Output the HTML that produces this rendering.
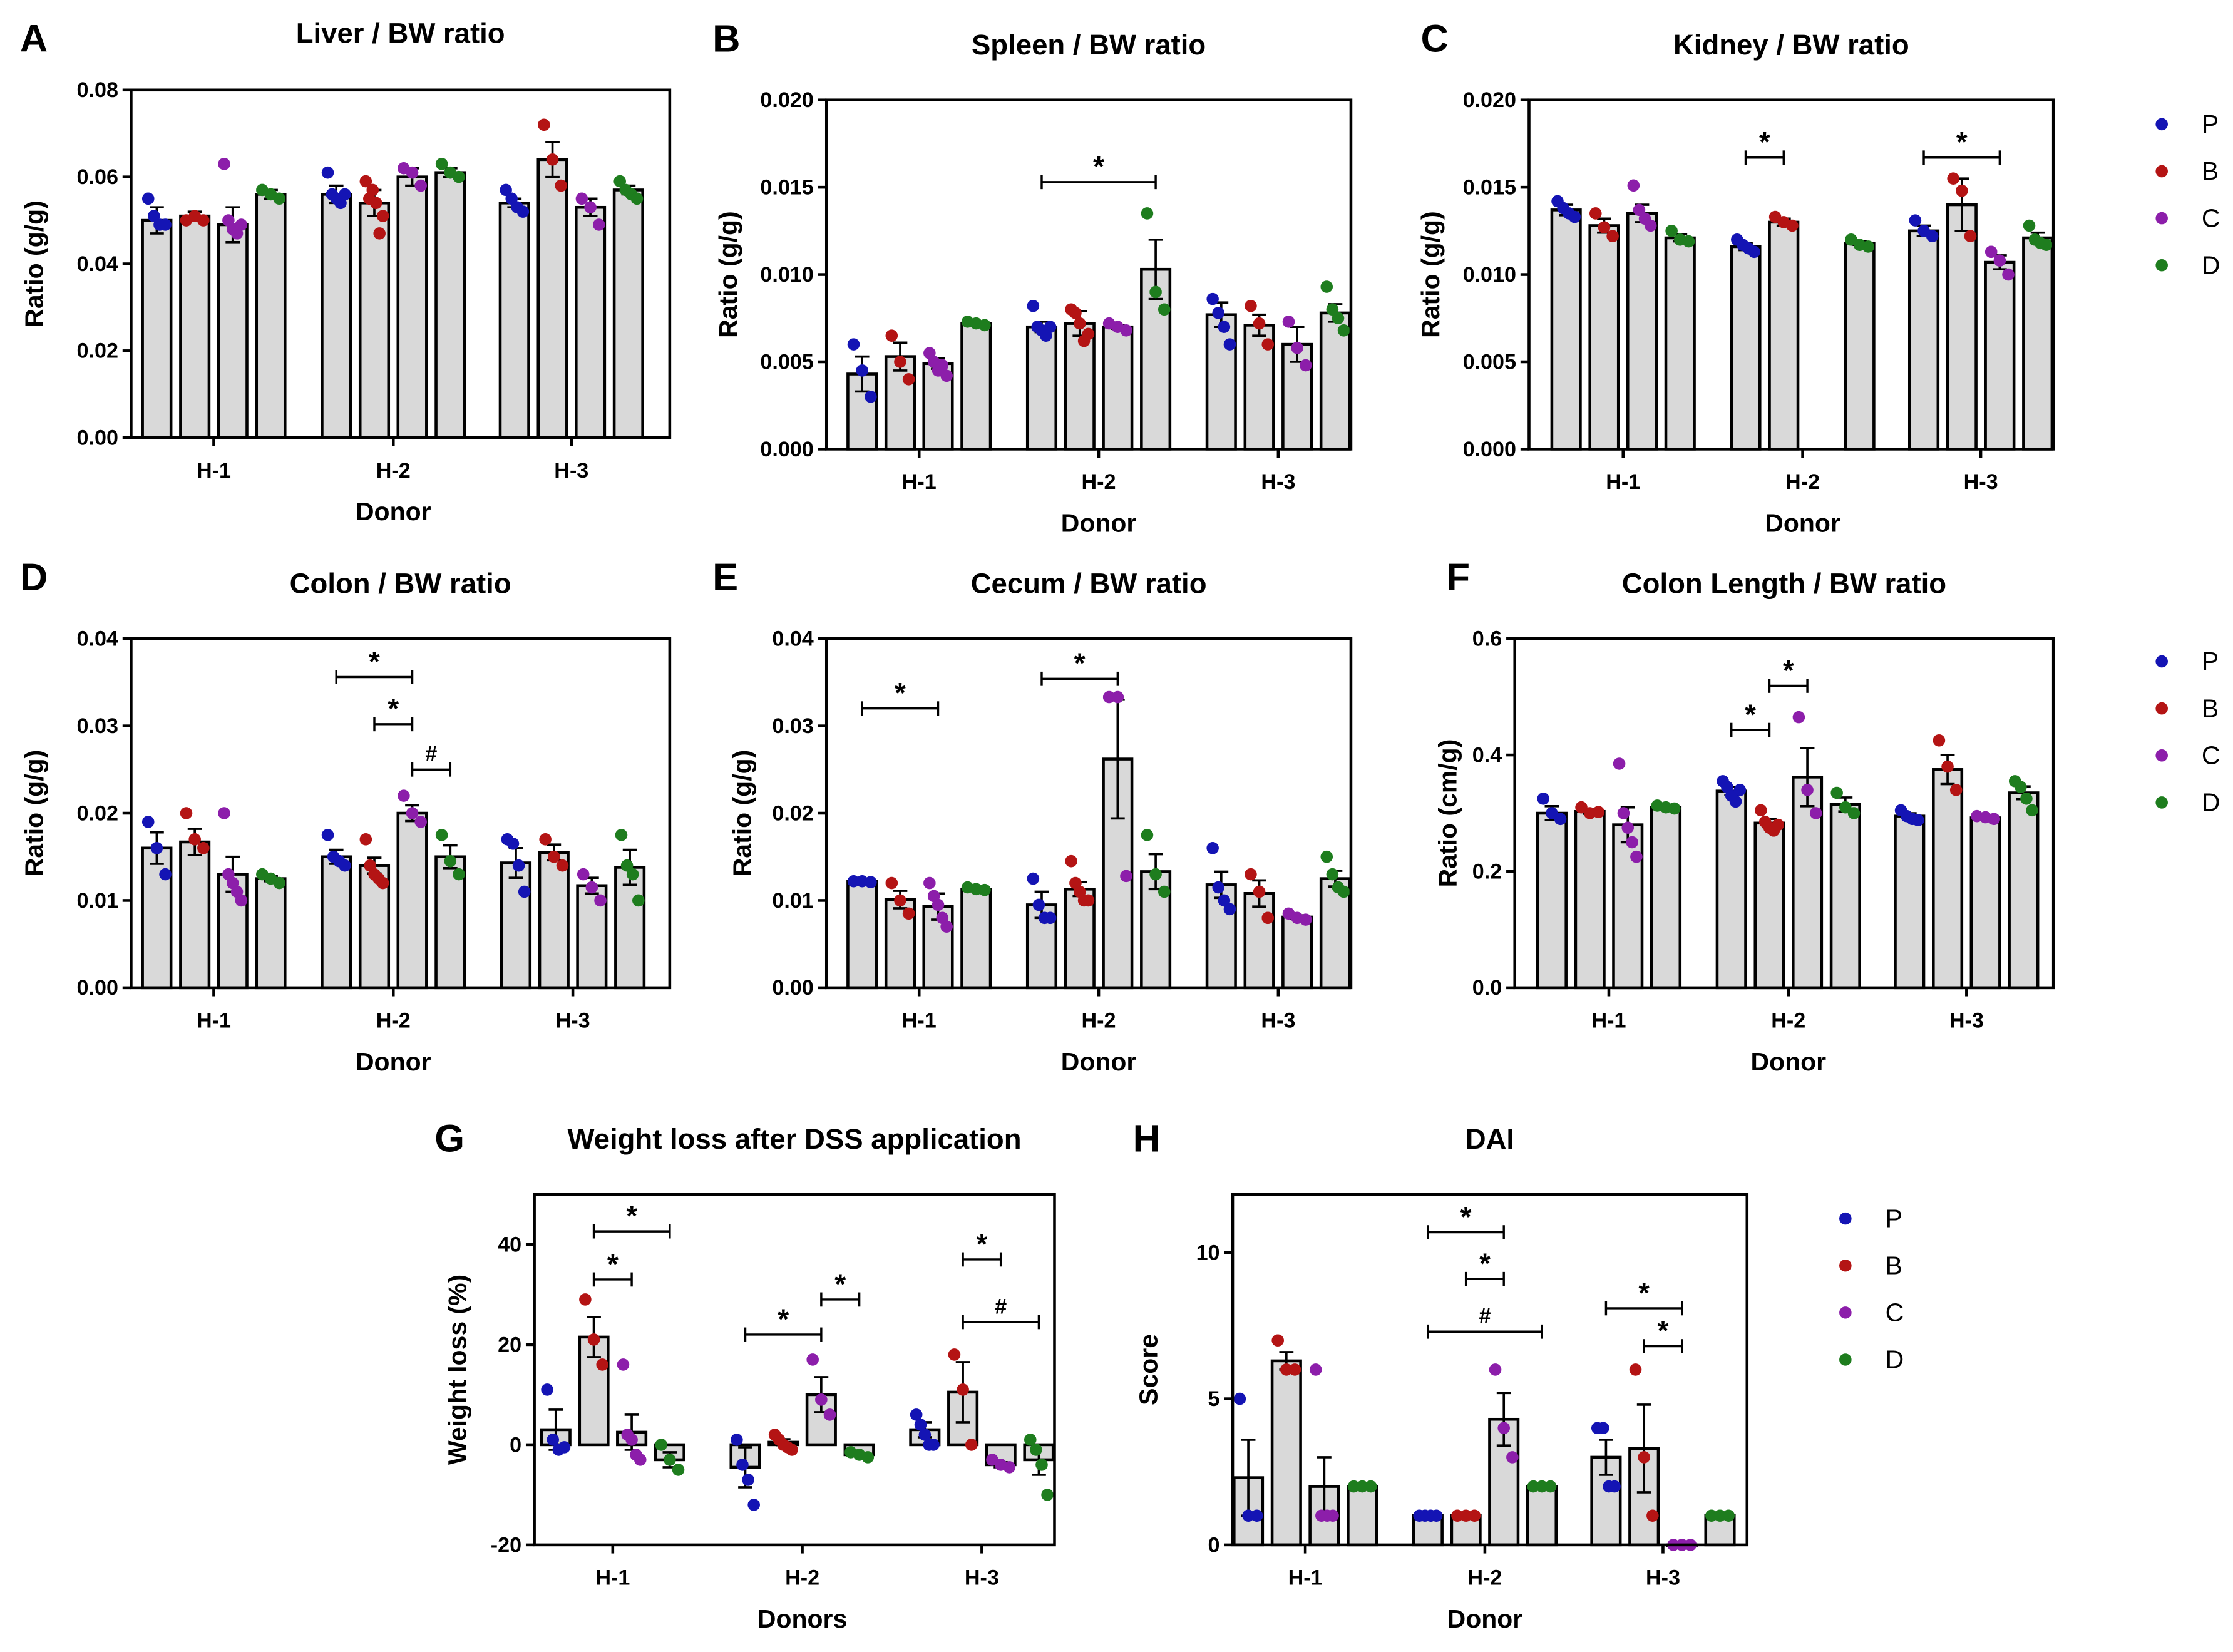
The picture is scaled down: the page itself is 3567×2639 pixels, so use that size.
<!DOCTYPE html>
<html><head><meta charset="utf-8"><style>
html,body{margin:0;padding:0;background:#fff;}
svg{display:block;font-family:"Liberation Sans",Arial,sans-serif;}
</style></head><body>
<svg id="fig" width="3567" height="2639" viewBox="0 0 1567 1159" xmlns="http://www.w3.org/2000/svg"></svg>
<script>
const seriesNames=["P","B","C","D"];
const seriesColors=["#1414b4","#b41414","#8c1eaa","#1e7d1e"];
const groups=["H-1","H-2","H-3"];
// Liver
const liverMeans=[[.050,.051,.049,.056],[.056,.054,.060,.061],[.054,.064,.053,.057]];
const liverSems=[[.003,.001,.004,.001],[.002,.003,.002,.001],[.001,.004,.002,.001]];
const liverPts=[[[.055,.051,.049,.049],[.050,.051,.050],[.063,.050,.048,.047,.049],[.057,.056,.055]],[[.061,.056,.055,.054,.056],[.059,.055,.057,.054,.047,.051],[.062,.061,.058],[.063,.061,.060]],[[.057,.055,.053,.052],[.072,.064,.058],[.055,.053,.049],[.059,.057,.056,.055]]];
// Spleen
const spleenMeans=[[.0043,.0053,.0049,.0072],[.0070,.0072,.0070,.0103],[.0077,.0071,.0060,.0078]];
const spleenSems=[[.001,.0008,.0003,.0001],[.0003,.0007,.0001,.0017],[.0007,.0006,.001,.0005]];
const spleenPts=[[[.006,.0045,.003],[.0065,.005,.004],[.0055,.005,.0045,.0048,.0042],[.0073,.0072,.0071]],[[.0082,.0070,.0068,.0065,.0070],[.0080,.0078,.0072,.0062,.0066],[.0072,.0070,.0068],[.0135,.0090,.0080]],[[.0086,.0078,.0070,.0060],[.0082,.0072,.0060],[.0073,.0058,.0048],[.0093,.0080,.0075,.0068]]];
// Kidney
const kidneyMeans=[[.0137,.0128,.0135,.0121],[.0116,.0130,null,.0118],[.0125,.0140,.0107,.0121]];
const kidneySems=[[.0003,.0004,.0005,.0002],[.0002,.0002,0,.0001],[.0003,.0015,.0004,.0003]];
const kidneyPts=[[[.0142,.0138,.0135,.0133],[.0135,.0127,.0122],[.0151,.0137,.0132,.0128],[.0125,.0120,.0119]],[[.0120,.0117,.0115,.0113],[.0133,.0130,.0128],[],[.0120,.0117,.0116]],[[.0131,.0125,.0122],[.0155,.0148,.0122],[.0113,.0108,.0100],[.0128,.0120,.0118,.0117]]];
// Colon
const colonMeans=[[.016,.0167,.013,.0125],[.015,.014,.020,.015],[.0143,.0155,.0117,.0138]];
const colonSems=[[.0018,.0015,.002,.0003],[.0008,.0009,.0009,.0013],[.0017,.0009,.0009,.002]];
const colonPts=[[[.019,.016,.013],[.020,.017,.016],[.020,.013,.012,.011,.010],[.013,.0125,.012]],[[.0175,.015,.0145,.0140],[.017,.014,.013,.0125,.012],[.022,.020,.019],[.0175,.0145,.013]],[[.017,.0165,.014,.011],[.017,.015,.014],[.013,.0115,.010],[.0175,.014,.013,.010]]];
// Cecum
const cecumMeans=[[.0122,.0101,.0093,.0113],[.0095,.0113,.0262,.0133],[.0118,.0108,.0081,.0125]];
const cecumSems=[[.0001,.001,.0015,.0001],[.0015,.0008,.0068,.002],[.0015,.0015,.0002,.0009]];
const cecumPts=[[[.0122,.0122,.0121],[.012,.010,.0085],[.012,.0105,.0095,.008,.007],[.0115,.0113,.0112]],[[.0125,.0095,.008,.008],[.0145,.012,.0110,.010,.0100],[.0333,.0333,.0128],[.0175,.013,.011]],[[.016,.0115,.010,.009],[.013,.011,.008],[.0085,.008,.0078],[.015,.013,.0115,.011]]];
// Colon length
const lenMeans=[[.300,.303,.280,.310],[.338,.283,.362,.315],[.295,.375,.292,.335]];
const lenSems=[[.012,.004,.03,.002],[.007,.007,.05,.012],[.005,.025,.002,.011]];
const lenPts=[[[.325,.300,.290],[.310,.300,.302],[.385,.300,.275,.250,.225],[.313,.310,.308]],[[.355,.345,.330,.320,.340],[.305,.285,.275,.270,.280],[.465,.340,.300],[.335,.310,.300]],[[.305,.295,.290,.288],[.425,.380,.340],[.295,.293,.290],[.355,.345,.325,.305]]];
// Weight loss
const wlMeans=[[3,21.5,2.5,-3],[-4.5,0.5,10,-2],[3,10.5,-4,-3]];
const wlSems=[[4,4,3.5,1.5],[4,0.6,3.5,0.3],[1.5,6,0.5,3]];
const wlPts=[[[11,1,-1,-0.5],[29,21,16],[16,2,1,-2,-3],[0,-3,-5]],[[1,-4,-7,-12],[2,1,0,-0.5,-1],[17,9,6],[-1.5,-2,-2.5]],[[6,4,2,0,0],[18,11,0],[-3,-4,-4.5],[1,-1,-4,-10]]];
// DAI
const daiMeans=[[2.3,6.3,2,2],[1,1,4.3,2],[3,3.3,0,1]];
const daiSems=[[1.3,0.3,1,0],[0,0,0.9,0],[0.6,1.5,0,0]];
const daiPts=[[[5,1,1],[7,6,6],[6,1,1,1],[2,2,2]],[[1,1,1,1],[1,1,1],[6,4,3],[2,2,2]],[[4,4,2,2],[6,3,1],[0,0,0],[1,1,1]]];

const NS="http://www.w3.org/2000/svg";
const svg=document.getElementById('fig');
function mk(tag,attrs,parent,text){const e=document.createElementNS(NS,tag);for(const k in attrs)e.setAttribute(k,attrs[k]);if(text!==undefined)e.textContent=text;(parent||svg).appendChild(e);return e;}

function panel(c){
  const g=mk('g',{});
  
  
  const ys=v=>c.y1-(v-c.min)/(c.max-c.min)*(c.y1-c.y0);
  const offs=[-40,-13.3,13.3,40];
  const L=mk('text',{x:c.lx,y:c.ly,'font-size':27,'font-weight':'bold'},g,c.letter);
  
  
  const T=mk('text',{x:(c.x0+c.x1)/2,y:c.ty,'font-size':20,'font-weight':'bold','text-anchor':'middle'},g,c.title);
  
  
  c.ticks.forEach((t,i)=>{const y=ys(t);
    mk('line',{x1:c.x0-6,x2:c.x0,y1:y,y2:y,stroke:'#000','stroke-width':2},g);
    const tl=mk('text',{x:c.x0-9,y:y+5,'font-size':15,'font-weight':'bold','text-anchor':'end'},g,c.tickLabels[i]);
    
    
  });
  const yl=mk('text',{x:0,y:0,'font-size':18,'font-weight':'bold','text-anchor':'middle',transform:`translate(${c.ylx},${(c.y0+c.y1)/2}) rotate(-90)`},g,c.ylabel);
  
  
  const xl=mk('text',{x:c.gc[1],y:c.y1+58,'font-size':18,'font-weight':'bold','text-anchor':'middle'},g,c.xlabel);
  
  
  const base=ys(Math.max(c.min,0));
  groups.forEach((gn,gi)=>{
    const gx=c.gc[gi];
    mk('line',{x1:gx,x2:gx,y1:c.y1,y2:c.y1+6,stroke:'#000','stroke-width':2},g);
    const gl=mk('text',{x:gx,y:c.y1+28,'font-size':15,'font-weight':'bold','text-anchor':'middle'},g,gn);
    
    
    seriesNames.forEach((sn,si)=>{
      const m=c.means[gi][si]; if(m===null) return;
      const cx=gx+offs[si], yv=ys(m);
      const b=mk('rect',{x:cx-10,y:Math.min(yv,base),width:20,height:Math.max(Math.abs(base-yv),0.5),fill:'#d9d9d9',stroke:'#000','stroke-width':2},g);
      
      
      const s=c.sems[gi][si];
      if(s>0){const a=ys(m+s),bb=ys(m-s);
        mk('line',{x1:cx,x2:cx,y1:a,y2:bb,stroke:'#000','stroke-width':1.6},g);
        mk('line',{x1:cx-5,x2:cx+5,y1:a,y2:a,stroke:'#000','stroke-width':1.6},g);
        mk('line',{x1:cx-5,x2:cx+5,y1:bb,y2:bb,stroke:'#000','stroke-width':1.6},g);}
      const pts=c.pts[gi][si], n=pts.length;
      pts.forEach((p,pi)=>{
        const dx=n>1?(pi-(n-1)/2)*(12/(n-1)):0;
        const d=mk('circle',{cx:cx+dx,cy:ys(p),r:4.3,fill:seriesColors[si]},g);
        
        
      });
    });
  });
  mk('rect',{x:c.x0,y:c.y0,width:c.x1-c.x0,height:c.y1-c.y0,fill:'none',stroke:'#000','stroke-width':2},g);
  (c.br||[]).forEach(b=>{
    const x1=c.gc[b[0]]+offs[b[1]], x2=c.gc[b[0]]+offs[b[2]], y=ys(b[3]);
    mk('line',{x1:x1,x2:x2,y1:y,y2:y,stroke:'#000','stroke-width':1.5},g);
    mk('line',{x1:x1,x2:x1,y1:y-5,y2:y+5,stroke:'#000','stroke-width':1.5},g);
    mk('line',{x1:x2,x2:x2,y1:y-5,y2:y+5,stroke:'#000','stroke-width':1.5},g);
    const st=mk('text',{x:(x1+x2)/2,y:y-(b[4]==='*'?4:6),'font-size':b[4]==='*'?20:15,'font-weight':'bold','text-anchor':'middle'},g,b[4]);
    
    
  });
}
function legend(x,ys){
  const g=mk('g',{});
  
  
  seriesNames.forEach((s,i)=>{
    mk('circle',{cx:x,cy:ys[i],r:4.3,fill:seriesColors[i]},g);
    const t=mk('text',{x:x+28,y:ys[i]+6,'font-size':18,'text-anchor':'start'},g,s);
    
    
  });
}
const r4=['0.00','0.01','0.02','0.03','0.04'];
panel({name:'panel-a',letter:'A',lx:14,ly:36,title:'Liver / BW ratio',ty:30,x0:92,x1:470,y0:63,y1:307,min:0,max:.08,ticks:[0,.02,.04,.06,.08],tickLabels:['0.00','0.02','0.04','0.06','0.08'],gc:[150,276,401],ylabel:'Ratio (g/g)',ylx:30,xlabel:'Donor',means:liverMeans,sems:liverSems,pts:liverPts});
panel({name:'panel-b',letter:'B',lx:500,ly:36,title:'Spleen / BW ratio',ty:38,x0:580,x1:948,y0:70,y1:315,min:0,max:.02,ticks:[0,.005,.01,.015,.02],tickLabels:['0.000','0.005','0.010','0.015','0.020'],gc:[645,771,897],ylabel:'Ratio (g/g)',ylx:517,xlabel:'Donor',means:spleenMeans,sems:spleenSems,pts:spleenPts,br:[[1,0,3,.0153,'*']]});
panel({name:'panel-c',letter:'C',lx:997,ly:36,title:'Kidney / BW ratio',ty:38,x0:1073,x1:1441,y0:70,y1:315,min:0,max:.02,ticks:[0,.005,.01,.015,.02],tickLabels:['0.000','0.005','0.010','0.015','0.020'],gc:[1139,1265,1390],ylabel:'Ratio (g/g)',ylx:1010,xlabel:'Donor',means:kidneyMeans,sems:kidneySems,pts:kidneyPts,br:[[1,0,1,.0167,'*'],[2,0,2,.0167,'*']]});
panel({name:'panel-d',letter:'D',lx:14,ly:414,title:'Colon / BW ratio',ty:416,x0:92,x1:470,y0:448,y1:693,min:0,max:.04,ticks:[0,.01,.02,.03,.04],tickLabels:r4,gc:[150,276,402],ylabel:'Ratio (g/g)',ylx:30,xlabel:'Donor',means:colonMeans,sems:colonSems,pts:colonPts,br:[[1,0,2,.0356,'*'],[1,1,2,.0302,'*'],[1,2,3,.025,'#']]});
panel({name:'panel-e',letter:'E',lx:500,ly:414,title:'Cecum / BW ratio',ty:416,x0:580,x1:948,y0:448,y1:693,min:0,max:.04,ticks:[0,.01,.02,.03,.04],tickLabels:r4,gc:[645,771,897],ylabel:'Ratio (g/g)',ylx:527,xlabel:'Donor',means:cecumMeans,sems:cecumSems,pts:cecumPts,br:[[0,0,2,.032,'*'],[1,0,2,.0354,'*']]});
panel({name:'panel-f',letter:'F',lx:1015,ly:414,title:'Colon Length / BW ratio',ty:416,x0:1063,x1:1441,y0:448,y1:693,min:0,max:.6,ticks:[0,.2,.4,.6],tickLabels:['0.0','0.2','0.4','0.6'],gc:[1129,1255,1380],ylabel:'Ratio (cm/g)',ylx:1022,xlabel:'Donor',means:lenMeans,sems:lenSems,pts:lenPts,br:[[1,0,1,.443,'*'],[1,1,2,.519,'*']]});
panel({name:'panel-g',letter:'G',lx:305,ly:808,title:'Weight loss after DSS application',ty:806,x0:375,x1:740,y0:838,y1:1084,min:-20,max:50,ticks:[-20,0,20,40],tickLabels:['-20','0','20','40'],gc:[430,563,689],ylabel:'Weight loss (%)',ylx:327,xlabel:'Donors',means:wlMeans,sems:wlSems,pts:wlPts,br:[[0,1,3,42.6,'*'],[0,1,2,33,'*'],[1,0,2,22,'*'],[1,2,3,29,'*'],[2,1,2,37,'*'],[2,1,3,24.5,'#']]});
panel({name:'panel-h',letter:'H',lx:795,ly:808,title:'DAI',ty:806,x0:865,x1:1226,y0:838,y1:1084,min:0,max:12,ticks:[0,5,10],tickLabels:['0','5','10'],gc:[916,1042,1167],ylabel:'Score',ylx:812,xlabel:'Donor',means:daiMeans,sems:daiSems,pts:daiPts,br:[[1,0,2,10.7,'*'],[1,1,2,9.1,'*'],[1,0,3,7.3,'#'],[2,0,2,8.1,'*'],[2,1,2,6.8,'*']]});
legend(1517,[87,120,153,186]);
legend(1517,[464,497,530,563]);
legend(1295,[855,888,921,954]);
</script>
</body></html>
